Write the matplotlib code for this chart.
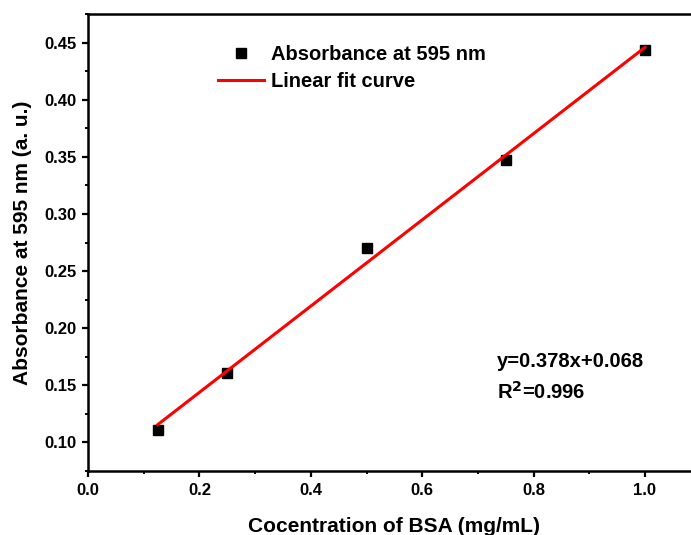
import numpy as np
import matplotlib.pyplot as plt
from matplotlib.ticker import MultipleLocator

plt.rcParams['font.family'] = ['Liberation Sans', 'DejaVu Sans']
plt.rcParams['font.weight'] = 'bold'

conc = [0.125, 0.25, 0.5, 0.75, 1.0]
absorb = [0.111, 0.161, 0.270, 0.347, 0.444]

slope, icpt = np.polyfit(conc, absorb, 1)
xfit = np.array([conc[0], conc[-1]])
yfit = slope * xfit + icpt

W, H = 691, 535
fig = plt.figure(figsize=(W / 100, H / 100), dpi=100)
# axes right edge runs off the figure (cropped original)
x0, y0 = 88, 471
pxx = 557.0   # px per 1.0 on x
pxy = 1142.0  # px per 1.0 on y
ax = fig.add_axes([x0 / W, (H - y0) / H, 1.1 * pxx / W, 0.4 * pxy / H])

ax.plot(conc, absorb, 's', color='black', markersize=7.5, label='Absorbance at 595 nm')
ax.plot(xfit, yfit, '-', color='red', linewidth=2.2, label='Linear fit curve')

ax.set_xlim(0, 1.1)
ax.set_ylim(0.075, 0.475)
ax.xaxis.set_minor_locator(MultipleLocator(0.1))
ax.yaxis.set_minor_locator(MultipleLocator(0.025))
ax.set_xticks([0.0, 0.2, 0.4, 0.6, 0.8, 1.0])
ax.set_yticks([0.10, 0.15, 0.20, 0.25, 0.30, 0.35, 0.40, 0.45])
ax.xaxis.set_major_formatter(lambda v, p: f'{v:.1f}')
ax.yaxis.set_major_formatter(lambda v, p: f'{v:.2f}')
ax.tick_params(which='major', direction='out', length=4.3, width=1.6, labelsize=12, pad=4)
ax.tick_params(which='minor', direction='out', length=2.2, width=1.4)
for s in ax.spines.values():
    s.set_linewidth(1.8)

ax.set_xlabel('Cocentration of BSA (mg/mL)', fontsize=15, fontweight='bold', labelpad=14)
ax.set_ylabel('Absorbance at 595 nm (a. u.)', fontsize=15, fontweight='bold', labelpad=9)

ax.legend(loc='upper left', bbox_to_anchor=(0.212, 0.932), frameon=False,
          fontsize=14.5, handlelength=2.3, handletextpad=0.35, labelspacing=0.4,
          borderpad=0, borderaxespad=0)

ax.text(0.734, 0.171, 'y=0.378x+0.068', fontsize=14.5, fontweight='bold', va='center')
ax.text(0.734, 0.144, r'R$^\mathbf{2}$=0.996', fontsize=14.5, fontweight='bold', va='center')

fig.savefig('out.png', dpi=100)
